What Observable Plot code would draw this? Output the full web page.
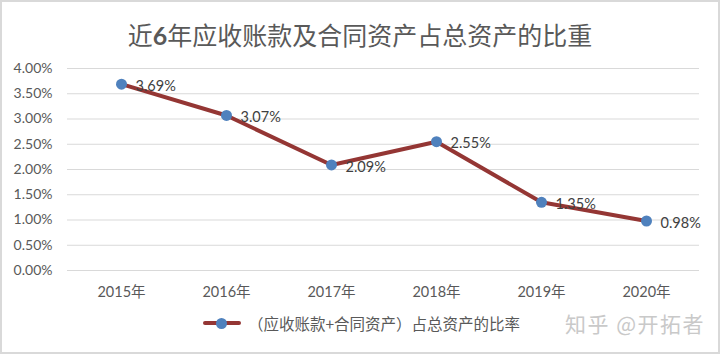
<!DOCTYPE html>
<html>
<head>
<meta charset="utf-8">
<script src="https://cdn.jsdelivr.net/npm/d3@7"></script>
<script src="https://cdn.jsdelivr.net/npm/@observablehq/plot@0.6"></script>
<style>
  html, body { margin: 0; padding: 0; background: #fff; }
  #wrap { position: relative; width: 720px; height: 354px; background: #fff; overflow: hidden;
          font-family: Lato, "Noto Sans CJK SC", sans-serif; }
  #frame { position: absolute; left: 0; top: 0; width: 720px; height: 354px; box-sizing: border-box;
           border: 2px solid #d9d9d9; pointer-events: none; }
  #title { position: absolute; left: 0; top: 14px; width: 720px; text-align: center;
           font-family: "Noto Sans CJK SC", sans-serif; font-size: 25px; color: #595959; line-height: 40px; }
  #title b { font-family: Lato, sans-serif; font-weight: bold; }
  #chart { position: absolute; left: 0; top: 55px; }
  #legend { position: absolute; left: 203px; top: 312px; height: 22px; display: flex; align-items: center;
            font-family: "Noto Sans CJK SC", sans-serif; font-size: 15.5px; color: #595959; }
  #legend .sw { position: relative; width: 38px; height: 22px; margin-right: 7px; }
  #legend .sw .ln { position: absolute; left: 0; top: 9px; width: 38px; height: 4px; background: #943634; border-radius: 2px; }
  #legend .sw .dt { position: absolute; left: 13px; top: 5.5px; width: 11px; height: 11px; border-radius: 50%; background: #4f81bd; }
  #wm { position: absolute; left: 565px; top: 308px; font-family: "Noto Sans CJK SC", sans-serif; font-size: 21px;
        color: #c9c9c9; letter-spacing: 1.5px; }
</style>
</head>
<body>
<div id="wrap">
  <div id="title">近<b>6</b>年应收账款及合同资产占总资产的比重</div>
  <div id="chart"></div>
  <div id="legend"><div class="sw"><div class="ln"></div><div class="dt"></div></div><span>（应收账款+合同资产）占总资产的比率</span></div>
  <div id="wm">知乎 @开拓者</div>
  <div id="frame"></div>
</div>
<script>
const years = ["2015年", "2016年", "2017年", "2018年", "2019年", "2020年"];
const ratios = [0.0369, 0.0307, 0.0209, 0.0255, 0.0135, 0.0098];
const yTicks = [0, 0.005, 0.01, 0.015, 0.02, 0.025, 0.03, 0.035, 0.04];

const data = years.map((y, i) => ({year: y, value: ratios[i]}));
const pct = d3.format(".2%");

const chart = Plot.plot({
  width: 720,
  height: 250,
  marginTop: 13,
  marginBottom: 35,
  marginLeft: 67,
  marginRight: 21,
  style: {fontFamily: "Lato, 'Noto Sans CJK SC', sans-serif", fontSize: "14px", color: "#595959", background: "transparent"},
  x: {type: "point", domain: years, padding: 0.5, label: null},
  y: {domain: [0, 0.04], label: null},
  marks: [
    Plot.ruleY(yTicks, {stroke: "#d9d9d9", strokeWidth: 1.2}),
    Plot.axisY({ticks: yTicks, tickFormat: pct, tickSize: 0, tickPadding: 15, label: null, fontSize: 14, fill: "#595959"}),
    Plot.axisX({tickSize: 0, tickPadding: 16, label: null, fontSize: 14.5, fill: "#595959",
                fontFamily: "Lato, 'Noto Sans CJK SC', sans-serif"}),
    Plot.line(data, {x: "year", y: "value", stroke: "#943634", strokeWidth: 4, strokeLinejoin: "round", strokeLinecap: "round"}),
    Plot.dot(data, {x: "year", y: "value", r: 5.5, fill: "#4f81bd", stroke: "none"}),
    Plot.text(data, {x: "year", y: "value", text: d => pct(d.value), dx: 14, dy: 2, textAnchor: "start",
                     fontSize: 14.5, fill: "#404040"})
  ]
});
document.getElementById("chart").appendChild(chart);
</script>
</body>
</html>
